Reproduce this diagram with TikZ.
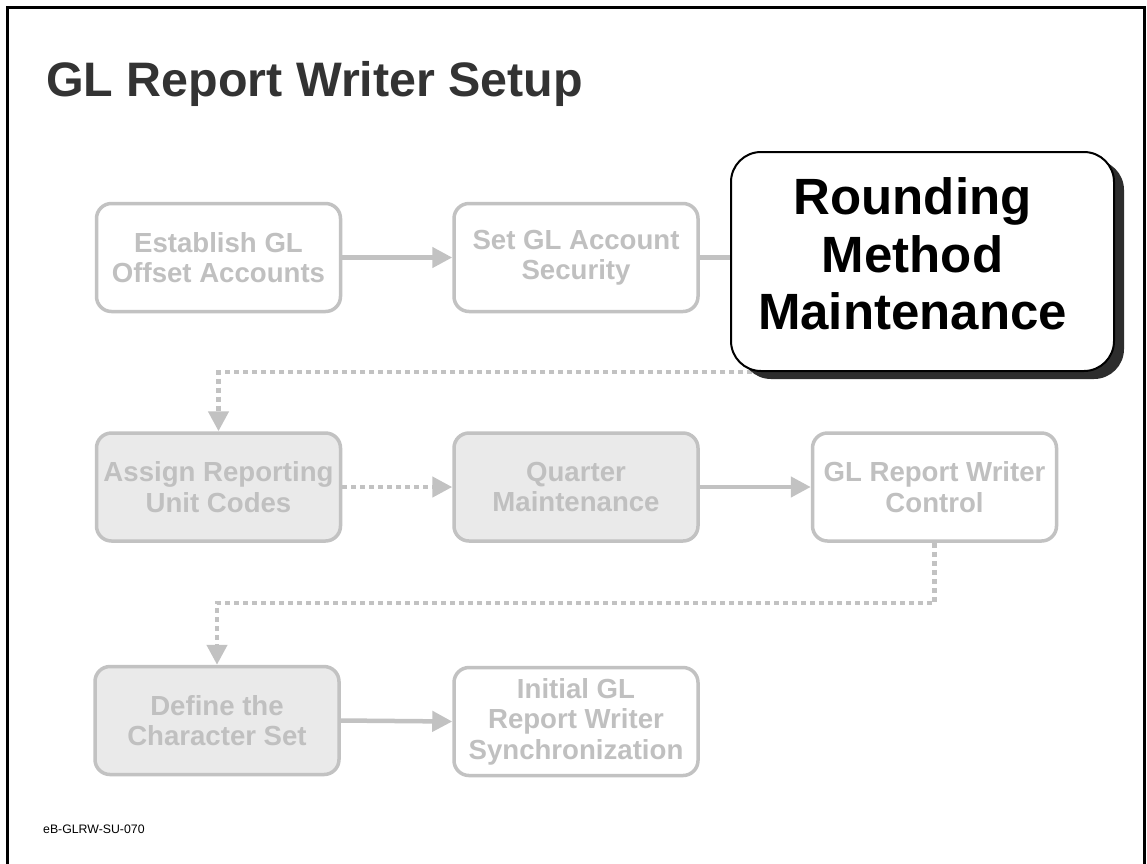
\documentclass[tikz,border=0pt]{standalone}
\usepackage{fontspec}
\setmainfont{Liberation Sans}
\usetikzlibrary{arrows.meta,shadows}

\definecolor{dimline}{RGB}{194,194,194}
\definecolor{dimtext}{RGB}{192,192,192}
\definecolor{dimfill}{RGB}{234,234,234}
\definecolor{titlegray}{RGB}{51,51,51}
\definecolor{shadowgray}{RGB}{45,45,45}

% invisible padding that pushes a centred line a little to the left
\newcommand{\padright}{\rule{20pt}{0pt}}

\tikzset{
  stepbox/.style={draw=dimline, line width=3.5pt, rounded corners=15pt,
    fill=white, text=dimtext, align=center,
    font=\bfseries\fontsize{27.6}{30.5}\selectfont,
    minimum width=244pt, minimum height=108pt, inner sep=2pt},
  donebox/.style={stepbox, fill=dimfill},
  focusbox/.style={draw=black, line width=2pt, rounded corners=30pt,
    fill=white, text=black, align=center,
    font=\bfseries\fontsize{51}{57.5}\selectfont,
    minimum width=383pt, minimum height=219pt, text depth=15pt,
    drop shadow={shadow xshift=10pt, shadow yshift=-8pt, fill=shadowgray, opacity=1}},
  flow/.style={draw=dimline, line width=4.5pt,
    -{Triangle[length=20pt,width=20pt]}},
  flowplain/.style={draw=dimline, line width=4.5pt},
  dotflow/.style={flow, dash pattern=on 5pt off 4pt},
}

\begin{document}
\begin{tikzpicture}[x=1pt, y=-1pt]
  \useasboundingbox (0,0) rectangle (1147,863);
  \fill[white] (0,0) rectangle (1147,863);

  % slide frame (open at the bottom)
  \draw[line width=3pt] (7.5,875) -- (7.5,7.5) -- (1144.5,7.5) -- (1144.5,875);

  % title and footer
  \node[anchor=base west, inner sep=0pt, text=titlegray,
        font=\bfseries\fontsize{48.4}{58}\selectfont] (title) at (46,96)
        {GL Report Writer Setup};
  \node[anchor=base west, inner sep=0pt,
        font=\fontsize{12.3}{14}\selectfont] (code) at (43,833)
        {eB-GLRW-SU-070};

  % row 1
  \node[stepbox] (est) at (218.5,257.5) {Establish GL\\Offset Accounts};
  \node[stepbox] (sec) at (576,257.5) {Set GL Account\\Security};

  % row 2
  \node[donebox] (asg) at (218.5,487) {Assign Reporting\\Unit Codes};
  \node[donebox] (qtr) at (576,487) {Quarter\\Maintenance};
  \node[stepbox] (ctl) at (934.5,487) {GL Report Writer\\Control};

  % row 3
  \node[donebox] (def) at (217,720.5) {Define the\\Character Set};
  \node[stepbox] (ini) at (576,721.5) {Initial GL\\Report Writer\\Synchronization};

  % connectors
  \coordinate (rndout) at (752,372);
  \coordinate (turn) at (0,603);
  \draw[flow] (est.east) -- (sec.west);
  \draw[dotflow] (rndout) -- (rndout -| asg.north) -- (asg.north);
  \draw[dotflow] (asg.east) -- (qtr.west);
  \draw[flow] (qtr.east) -- (ctl.west);
  \draw[dotflow] (ctl.south) -- (ctl.south |- turn) -| (def.north);
  \draw[flow] (def.east) -- (ini.west);

  % highlighted step
  \node[focusbox] (rnd) at (922.5,261.5)
    {Rounding\padright\\Method\padright\\Maintenance\padright};
  \draw[flowplain] (sec.east) -- (sec.east -| rnd.west);
\end{tikzpicture}
\end{document}
